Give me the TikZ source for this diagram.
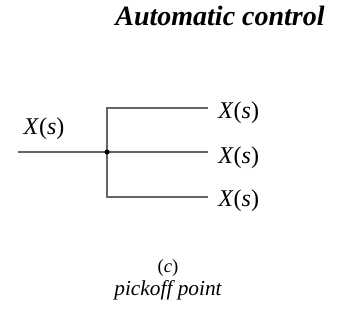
\documentclass[tikz,border=0pt]{standalone}
\usepackage{fontspec}
\setmainfont{Liberation Serif}
\usetikzlibrary{positioning}
\begin{document}
\begin{tikzpicture}[x=0.75pt,y=-0.75pt,
    line/.style={draw=black!60, line width=1.3pt},
    lbl/.style={font=\fontsize{18}{20}\selectfont, inner sep=0pt}]
    \useasboundingbox (0,0) rectangle (337,329);
    \node[font=\fontsize{21}{24}\selectfont\bfseries\itshape, inner sep=0pt] (title) at (220,16) {Automatic control};
    % signal lines
    \coordinate (in) at (18,152);
    \coordinate (pick) at (107,152);
    \coordinate (top) at (107,108);
    \coordinate (bot) at (107,197);
    \coordinate (outtop) at (208,108);
    \coordinate (outmid) at (208,152);
    \coordinate (outbot) at (208,197);
    \draw[line] (in) -- (outmid);
    \draw[line] (outtop) -- (top) -- (bot) -- (outbot);
    \fill (pick) circle (2.5);
    \node[lbl] (xin) at (44,129) {\textit{X}(\textit{s})};
    \node[lbl, anchor=west] (xtop) at (218,113) {\textit{X}(\textit{s})};
    \node[lbl, anchor=west] (xmid) at (218,158) {\textit{X}(\textit{s})};
    \node[lbl, anchor=west] (xbot) at (218,201) {\textit{X}(\textit{s})};
    \node[lbl, font=\fontsize{14}{16}\selectfont] (sub) at (168,268) {(\textit{c})};
    \node[inner sep=0pt, font=\fontsize{16}{18}\selectfont\itshape] (name) at (168,290) {pickoff point};
\end{tikzpicture}
\end{document}
